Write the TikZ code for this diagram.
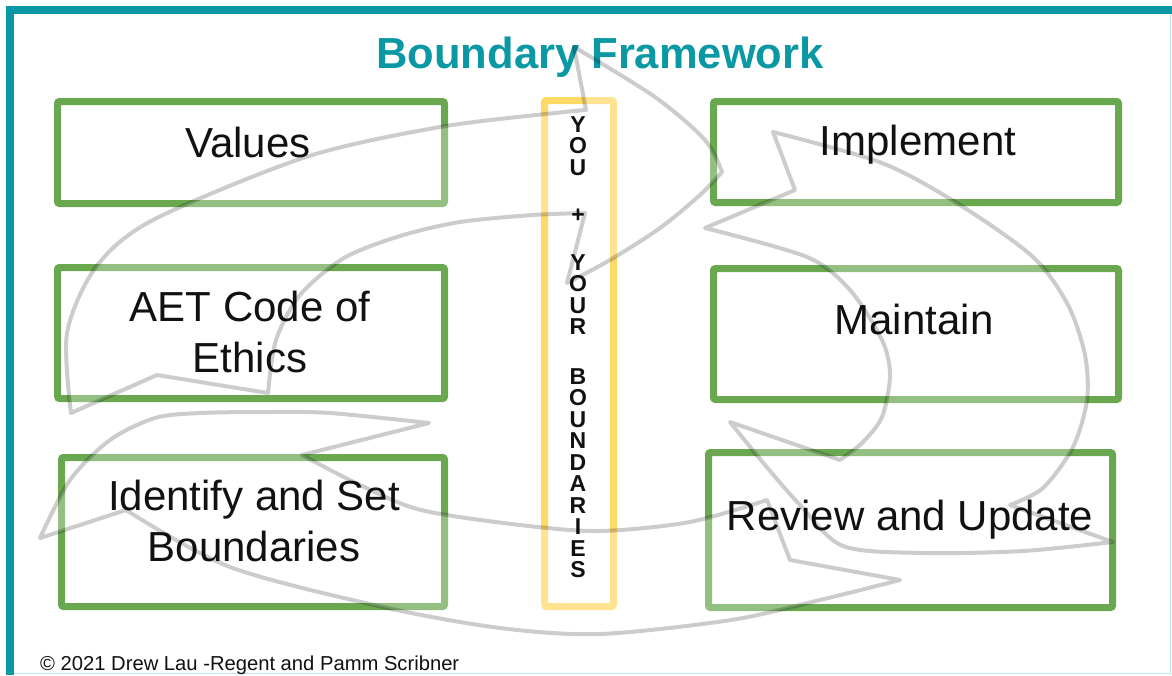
\documentclass[tikz,border=0pt]{standalone}
\usepackage{fontspec}
\setmainfont{Liberation Sans}
\definecolor{teal1}{HTML}{0A99A4}
\definecolor{grn}{HTML}{6AA84F}
\definecolor{gold}{HTML}{FFD966}
\definecolor{lightc}{HTML}{BFE7EB}
\definecolor{txt}{HTML}{111111}
\newcommand\swirlA{plot[smooth] coordinates {(71,413) (67,333) (96,267) (153,220) (306,157) (440,127) (555,113) (586,110)}
 -- plot[smooth] coordinates {(574,47) (655,97) (705,140) (722,172)}
 -- plot[smooth] coordinates {(722,172) (700,195) (660,228) (610,260) (567,283)}
 -- plot[smooth] coordinates {(585,213) (533,215) (460,222) (400,236) (344,258) (300,295) (276,340) (268,393)}
 -- (157,375) -- cycle}
\newcommand\swirlB{plot[smooth] coordinates {(773,132) (882,163) (960,205) (1033,257) (1068,305) (1085,355) (1087,400) (1073,447) (1043,488) (1010,505)}
 -- (1113,542)
 -- plot[smooth] coordinates {(1113,542) (1023,551) (923,553) (843,546) (800,505) (765,465) (730,422)}
 -- plot[smooth] coordinates {(840,460) (862,443) (882,417) (890,375) (882,340) (850,290) (807,257) (705,228)}
 -- (795,190) -- cycle}
\newcommand\swirlC{plot[smooth] coordinates {(767,500) (690,522) (600,531) (520,525) (421,510) (360,485) (302,455)}
 -- (429,423)
 -- plot[smooth] coordinates {(429,423) (330,413) (268,412) (200,413) (155,418) (110,440) (70,480) (40,538)}
 -- (126,510)
 -- plot[smooth] coordinates {(126,510) (230,567) (383,607) (500,628) (600,634) (731,620) (820,600) (900,580)}
 -- (790,560) -- cycle}
\begin{document}
\begin{tikzpicture}[x=1pt,y=-1pt,
  gbox/.style={draw=grn, line width=7pt, rounded corners=2pt, inner sep=0pt},
  ybox/.style={draw=gold, line width=7pt, rounded corners=2pt, inner sep=0pt},
  boxtext/.style={font=\fontsize{42}{51}\selectfont, text=txt, align=center, inner sep=0pt},
  swirlfill/.style={fill=white, fill opacity=0.28},
  swirlline/.style={draw=black, draw opacity=0.2, line width=4pt, line join=round}
]
\useasboundingbox (0,0) rectangle (1172,675);
\fill[white] (0,0) rectangle (1172,675);
% frame
\draw[lightc, line width=1.5pt] (10,673.5) -- (1170.5,673.5) -- (1170.5,10);
\fill[teal1] (6,6) rectangle (1172,14);
\fill[teal1] (6,6) rectangle (14,675);
% boxes
\node[gbox, minimum width=387pt, minimum height=102pt] (values) at (251,152.5) {};
\node[gbox, minimum width=387pt, minimum height=131pt] (aet) at (251,333) {};
\node[gbox, minimum width=383pt, minimum height=149pt] (identify) at (253,532) {};
\node[gbox, minimum width=405pt, minimum height=101pt] (implement) at (916,152) {};
\node[gbox, minimum width=405pt, minimum height=131pt] (maintain) at (916,334) {};
\node[gbox, minimum width=404pt, minimum height=155pt] (review) at (910.5,530) {};
\node[ybox, minimum width=69pt, minimum height=506pt] (you) at (579,353.5) {};
% translucent arrow bodies
\fill[swirlfill] \swirlA;
\fill[swirlfill] \swirlB;
\fill[swirlfill] \swirlC;
% title
\node[font=\fontsize{43.5}{50}\selectfont\bfseries, text=teal1, anchor=base, inner sep=0pt] (title) at (600,68) {Boundary Framework};
% texts
\node[boxtext, anchor=base] (tvalues) at (248,157) {Values};
\node[boxtext] (taet) at (250,332.2) {AET Code of\\Ethics};
\node[boxtext] (tidentify) at (254,520.7) {Identify and Set\\Boundaries};
\node[boxtext, anchor=base] (timplement) at (918,155) {Implement};
\node[boxtext, anchor=base] (tmaintain) at (914,334) {Maintain};
\node[boxtext, anchor=base] (treview) at (910,530) {Review and Update};
\node[font=\fontsize{23}{21.5}\selectfont\bfseries, text=txt, align=center, inner sep=0pt] (tyou) at (578,347)
  {Y\\O\\U\\[25.5pt]+\\[26.5pt]Y\\O\\U\\R\\[28pt]B\\O\\U\\N\\D\\A\\R\\I\\E\\S};
\node[font=\fontsize{20.2}{22}\selectfont, text=txt, anchor=base west, inner sep=0pt] (foot) at (40,670)
  {© 2021 Drew Lau -Regent and Pamm Scribner};
% arrow outlines
\draw[swirlline] \swirlA;
\draw[swirlline] \swirlB;
\draw[swirlline] \swirlC;
\end{tikzpicture}
\end{document}
